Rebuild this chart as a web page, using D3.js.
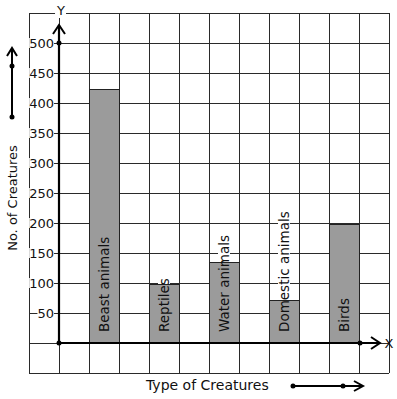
<!DOCTYPE html>
<html><head><meta charset="utf-8">
<script src="https://cdn.jsdelivr.net/npm/d3@7"></script>
<style>
html,body{margin:0;padding:0;background:#fff;}
svg{display:block;font-family:"DejaVu Sans",sans-serif;}
</style></head><body>
<script>
const categories = ["Beast animals","Reptiles","Water animals","Domestic animals","Birds"];
const values = [423, 98, 135, 71, 198];
const tickValues = [50,100,150,200,250,300,350,400,450,500];
const tickLabels = ["50","100","150","200","250","300","350","400","450","500"];
const yTitle = "No. of Creatures";
const xTitle = "Type of Creatures";

const W = 397, H = 399;
const svg = d3.select("body").append("svg").attr("width", W).attr("height", H);

const y = d3.scaleLinear().domain([-50, 550]).range([373, 13]);
const gx = d3.scaleLinear().domain([-1, 11]).range([29, 389]);
const x = d3.scaleBand().domain(categories).range([gx(1), gx(10)]).paddingInner(0.5).paddingOuter(0);

const gridColor = "#2a2a2a";
// grid
const grid = svg.append("g");
grid.selectAll("line.h").data(d3.range(-50, 551, 50)).join("line")
  .attr("x1", gx(-1)).attr("x2", gx(11)).attr("y1", d => y(d)).attr("y2", d => y(d))
  .attr("stroke", gridColor).attr("stroke-width", 1).attr("shape-rendering","crispEdges");
grid.selectAll("line.v").data(d3.range(-1, 12)).join("line")
  .attr("x1", d => gx(d)).attr("x2", d => gx(d)).attr("y1", y(550)).attr("y2", y(-50))
  .attr("stroke", gridColor).attr("stroke-width", 1).attr("shape-rendering","crispEdges");

// tick labels with white backgrounds
const tl = svg.append("g");
tickValues.forEach((v, i) => {
  const t = tl.append("text").attr("x", 54).attr("y", y(v)).attr("dy","0.36em")
    .attr("text-anchor","end").attr("font-size", 13).attr("fill","#111").text(tickLabels[i]);
  const b = t.node().getBBox();
  tl.insert("rect", () => t.node()).attr("x", b.x).attr("y", y(v)-5).attr("width", b.width).attr("height", 10).attr("fill","#fff");
});

// bar label backgrounds, bars, then labels
const labG = svg.append("g");
const barG = svg.append("g");
const txtG = svg.append("g");
categories.forEach((c, i) => {
  const cx = x(c) + x.bandwidth()/2;
  const t = txtG.append("text")
    .attr("transform", `translate(${cx + 4.5},${y(0) - 11}) rotate(-90)`)
    .attr("font-size", 13.5).attr("fill", "#111").text(c);
  const b = t.node().getBBox();
  labG.append("rect").attr("x", cx - 6).attr("y", y(0) - 11 - b.width).attr("width", 12).attr("height", b.width).attr("fill","#fff");
  barG.append("rect").attr("x", x(c)).attr("y", y(values[i])).attr("width", x.bandwidth())
    .attr("height", y(0) - y(values[i])).attr("fill", "#9b9b9b").attr("stroke", "#222").attr("stroke-width", 1)
    .attr("shape-rendering","crispEdges");
});

// axes
const ax = svg.append("g").attr("stroke","#000").attr("fill","none");
ax.append("line").attr("x1", gx(0)).attr("x2", gx(0)).attr("y1", y(0)).attr("y2", 25).attr("stroke-width", 2.2);
ax.append("path").attr("d", `M${gx(0)-6},34 L${gx(0)},25 L${gx(0)+6},34`).attr("stroke-width", 2);
ax.append("line").attr("x1", gx(0)).attr("x2", 380).attr("y1", y(0)).attr("y2", y(0)).attr("stroke-width", 2.2);
ax.append("path").attr("d", `M371,${y(0)-6} L380,${y(0)} L371,${y(0)+6}`).attr("stroke-width", 2);
svg.append("circle").attr("cx", gx(0)).attr("cy", y(500)).attr("r", 2.5).attr("fill","#000");
svg.append("circle").attr("cx", gx(0)).attr("cy", y(0)).attr("r", 2.5).attr("fill","#000");
svg.append("circle").attr("cx", gx(10)+1).attr("cy", y(0)).attr("r", 2.5).attr("fill","#000");

// axis letters
const yl = svg.append("text").attr("x", gx(0)+2).attr("y", 10).attr("dy","0.36em").attr("text-anchor","middle")
  .attr("font-size", 13).attr("fill","#111").text("Y");
const yb = yl.node().getBBox();
svg.insert("rect", () => yl.node()).attr("x", yb.x-1).attr("y", 8).attr("width", yb.width+2).attr("height", 10).attr("fill","#fff");
svg.append("text").attr("x", 389).attr("y", y(0)).attr("dy","0.36em").attr("text-anchor","middle")
  .attr("font-size", 13).attr("fill","#111").text("X");

// y title with arrow
svg.append("text").attr("transform", `translate(16.5,198) rotate(-90)`).attr("text-anchor","middle")
  .attr("font-size", 13).attr("fill","#111").text(yTitle);
svg.append("line").attr("x1", 12).attr("x2", 12).attr("y1", 117).attr("y2", 48).attr("stroke","#000").attr("stroke-width", 2);
svg.append("path").attr("d", "M7,56 L12,48 L17,56").attr("stroke","#000").attr("stroke-width",2).attr("fill","none");
svg.append("circle").attr("cx", 12).attr("cy", 66).attr("r", 2.5).attr("fill","#000");
svg.append("circle").attr("cx", 12).attr("cy", 117).attr("r", 2.5).attr("fill","#000");

// x title with arrow
svg.append("text").attr("x", 146).attr("y", 390).attr("font-size", 14).attr("fill","#111").text(xTitle);
svg.append("line").attr("x1", 293).attr("x2", 362).attr("y1", 386).attr("y2", 386).attr("stroke","#000").attr("stroke-width", 2);
svg.append("path").attr("d", "M354,381 L363,386 L354,391").attr("stroke","#000").attr("stroke-width",2).attr("fill","none");
svg.append("circle").attr("cx", 293).attr("cy", 386).attr("r", 2.5).attr("fill","#000");
svg.append("circle").attr("cx", 343).attr("cy", 386).attr("r", 2.5).attr("fill","#000");
</script>
</body></html>
